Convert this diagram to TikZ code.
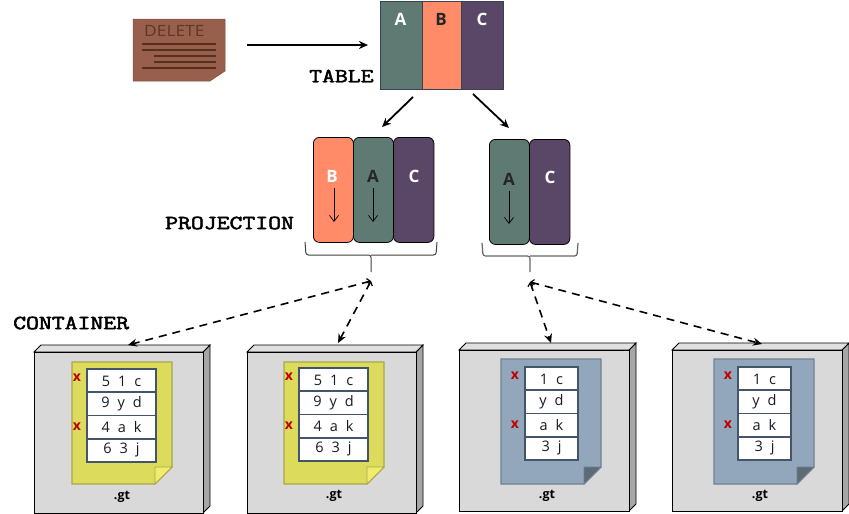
\documentclass[tikz,border=0pt]{standalone}
\usepackage{fontspec}
\usepackage{graphicx}
\setmainfont{Open Sans}
\newfontfamily\monolab[FakeBold=2.2]{Latin Modern Mono}
\newfontfamily\cellfont[WordSpace=2.1]{Open Sans}
\usetikzlibrary{arrows.meta,calc}
\definecolor{cteal}{HTML}{5F7A73}
\definecolor{corange}{HTML}{FF8B69}
\definecolor{cpurple}{HTML}{5A4667}
\definecolor{cyell}{HTML}{DCDB5C}
\definecolor{cyellf}{HTML}{F2EC6E}
\definecolor{cyelle}{HTML}{A9A84A}
\definecolor{cblue}{HTML}{92A7BB}
\definecolor{cbluef}{HTML}{5D6B76}
\definecolor{cbluee}{HTML}{6F8090}
\definecolor{cgrid}{HTML}{44546A}
\definecolor{cbrown}{HTML}{975F4C}
\definecolor{cbrownd}{HTML}{55301F}
\definecolor{cdark}{HTML}{262626}
\definecolor{celltext}{HTML}{141A28}
\tikzset{
  x=1pt,y=-1pt,
  lab/.style={font=\fontsize{17}{17}\selectfont\bfseries,inner sep=0pt},
  band/.style={draw=cgrid!80!black,line width=1pt},
  roundband/.style={draw=black,line width=0.8pt,rounded corners=6pt},
  mono/.style={inner sep=0pt,anchor=west,font=\monolab\fontsize{20}{20}\selectfont},
  solidarrow/.style={-{Stealth[length=9pt,width=8pt]},line width=1.8pt},
  dasharrow/.style={{Straight Barb[length=3pt,width=7pt,line width=1.2pt]}-{Stealth[length=9pt,width=8pt]},line width=1.6pt,dash pattern=on 8pt off 6pt},
  downarrow/.style={-{Straight Barb[length=6pt,width=9pt]},line width=0.7pt},
  cell/.style={inner sep=0pt,font=\cellfont\fontsize{14.5}{15}\selectfont,text=celltext},
  xmark/.style={inner sep=0pt,font=\fontsize{14}{14}\selectfont\bfseries,text=red!75!black},
  gt/.style={inner sep=0pt,font=\fontsize{12.5}{13}\selectfont\bfseries,text=black},
  brace/.style={draw=black!75,line width=1pt,rounded corners=2.5pt},
}
% #1 name, #2 left x, #3 front top y, #4 right x, #5 bottom y
\newcommand{\cbox}[5]{%
  \fill[fill=black!35!white,draw=black,line width=0.8pt] (#4,#3) -- ++(7,-7) -- (#4+7,#5-7) -- (#4,#5) -- cycle;
  \fill[fill=black!12!white,draw=black,line width=0.8pt] (#2,#3) -- ++(7,-7) -- (#4+7,#3-7) -- (#4,#3) -- cycle;
  \node[draw=black,line width=0.8pt,fill=black!15!white,minimum width=#4pt-#2pt,minimum height=#5pt-#3pt,inner sep=0pt,anchor=north west] (#1) at (#2,#3) {};
}
% #1 left, #2 top, #3 right, #4 bottom, #5 fill, #6 fold, #7 edge
\newcommand{\cdoc}[7]{%
  \fill[fill=#5,draw=#7,line width=1.2pt] (#1,#2) -- (#3,#2) -- (#3,#4-17) -- (#3-17,#4) -- (#1,#4) -- cycle;
  \fill[fill=#6,draw=#7,line width=0.8pt] (#3,#4-17) -- (#3-17,#4-17) -- (#3-17,#4) -- cycle;
}
% #1 left, #2 top, #3 right, #4-#7 row texts
\newcommand{\cgridrows}[7]{%
  \fill[white,draw=cgrid,line width=1.8pt] (#1,#2) rectangle (#3,#2+93);
  \draw[cgrid,line width=1.8pt] (#1,#2+23.25) -- (#3,#2+23.25) (#1,#2+46.5) -- (#3,#2+46.5) (#1,#2+69.75) -- (#3,#2+69.75);
  \node[cell] at ({(#1+#3)/2},#2+12) {#4};
  \node[cell] at ({(#1+#3)/2},#2+35) {#5};
  \node[cell] at ({(#1+#3)/2},#2+58) {#6};
  \node[cell] at ({(#1+#3)/2},#2+81) {#7};
  \node[xmark] at (#1-10,#2+8.5) {x};
  \node[xmark] at (#1-10,#2+57.5) {x};
}
\begin{document}
\begin{tikzpicture}
\useasboundingbox (0,0) rectangle (849,514);
% DELETE note
\fill[cbrown,draw=cbrown!85!black,line width=0.5pt] (133,19) -- (225,19) -- (225,71) -- (210,81) -- (133,81) -- cycle;
\node[inner sep=0pt,anchor=west,text=cbrownd!85!cbrown,font=\fontsize{15.5}{16}\selectfont] (delete) at (144,31) {\scalebox{1.12}[1]{DELETE}};
\draw[cbrownd,line width=1.1pt] (142,44) -- (216,44) (142,50) -- (216,50) (154,56) -- (216,56) (154,62) -- (216,62) (142,68) -- (216,68);
\coordinate (delout) at (247,45);
\coordinate (tabin) at (368,45);
\draw[solidarrow] (delout) -- (tabin);
% main table
\fill[cteal] (380,1) rectangle (422,89);
\fill[corange] (422,1) rectangle (461,89);
\fill[cpurple] (461,1) rectangle (503,89);
\draw[band] (380,1) rectangle (503,89) (422,1) -- (422,89) (461,1) -- (461,89);
\node[lab,text=white] (tA) at (400.5,19) {A};
\node[lab,text=cdark] (tB) at (441,19) {B};
\node[lab,text=white] (tC) at (482,19) {C};
\node[mono] (tablelabel) at (309,76) {\scalebox{1.25}[1]{TABLE}};
% projection 1
\node[roundband,fill=corange,minimum width=40pt,minimum height=105pt,inner sep=0pt,anchor=north west] (p1b) at (313,137) {};
\node[roundband,fill=cteal,minimum width=40pt,minimum height=105pt,inner sep=0pt,anchor=north west] (p1a) at (353,137) {};
\node[roundband,fill=cpurple,minimum width=40.5pt,minimum height=105pt,inner sep=0pt,anchor=north west] (p1c) at (393,137) {};
\node[lab,text=white] (lb) at (332,176) {B};
\node[lab,text=cdark] (la) at (373,176) {A};
\node[lab,text=white] (lc) at (414,176) {C};
\draw[downarrow] (334,188) -- (334,222);
\draw[downarrow] (373,188) -- (373,222);
% projection 2
\node[roundband,fill=cteal,minimum width=40pt,minimum height=105pt,inner sep=0pt,anchor=north west] (p2a) at (489,139) {};
\node[roundband,fill=cpurple,minimum width=40.5pt,minimum height=105pt,inner sep=0pt,anchor=north west] (p2c) at (529,139) {};
\node[lab,text=cdark] (la2) at (509,179) {A};
\node[lab,text=white] (lc2) at (550,177) {C};
\draw[downarrow] (509,191) -- (509,224);
\node[mono] (projlabel) at (165,223) {\scalebox{1.25}[1]{PROJECTION}};
\node[mono] (contlabel) at (13,323) {\scalebox{1.25}[1]{CONTAINER}};
% arrows from table
\coordinate (ta1) at (413,97);
\coordinate (ta2) at (473,94);
\coordinate (pa1) at (382,127);
\coordinate (pa2) at (509,128);
\draw[solidarrow] (ta1) -- (pa1);
\draw[solidarrow] (ta2) -- (pa2);
% braces
\draw[brace] (305,242) -- (306,255) -- (371,255) -- (371,272) (371,255) -- (436,255) -- (437,242);
\draw[brace,draw=black!60,line width=1.2pt] (482,243) -- (483,256) -- (530,256) -- (530,272) (530,256) -- (577,256) -- (578,243);
\coordinate (b1) at (371,281);
\coordinate (b2) at (530,282);
% containers
\cbox{c1}{34}{352}{203}{513}
\cbox{c2}{247}{352}{416}{513}
\cbox{c3}{459}{350}{629}{511}
\cbox{c4}{672}{350}{842}{511}
\cdoc{72}{362}{172}{484}{cyell}{cyellf}{cyelle}
\cdoc{284}{362}{384}{484}{cyell}{cyellf}{cyelle}
\cdoc{501}{359}{601}{484}{cblue}{cbluef}{cbluee}
\cdoc{714}{359}{814}{484}{cblue}{cbluef}{cbluee}
\cgridrows{87}{369}{156}{5 1 c}{9 y d}{4 a k}{6 3 j}
\cgridrows{299}{368}{368}{5 1 c}{9 y d}{4 a k}{6 3 j}
\cgridrows{525}{367}{578}{1 c}{y d}{a k}{3 j}
\cgridrows{738}{367}{791}{1 c}{y d}{a k}{3 j}
\node[gt] (g1) at (122,497) {.gt};
\node[gt] (g2) at (334,496) {.gt};
\node[gt] (g3) at (547,496) {.gt};
\node[gt] (g4) at (760,496) {.gt};
\coordinate (d1) at (128,345);
\coordinate (d2) at (338,343);
\coordinate (d3) at (551,343);
\coordinate (d4) at (762,344);
\draw[dasharrow] (b1) -- (d1);
\draw[dasharrow] (b1) -- (d2);
\draw[dasharrow] (b2) -- (d3);
\draw[dasharrow] (b2) -- (d4);
\end{tikzpicture}
\end{document}
